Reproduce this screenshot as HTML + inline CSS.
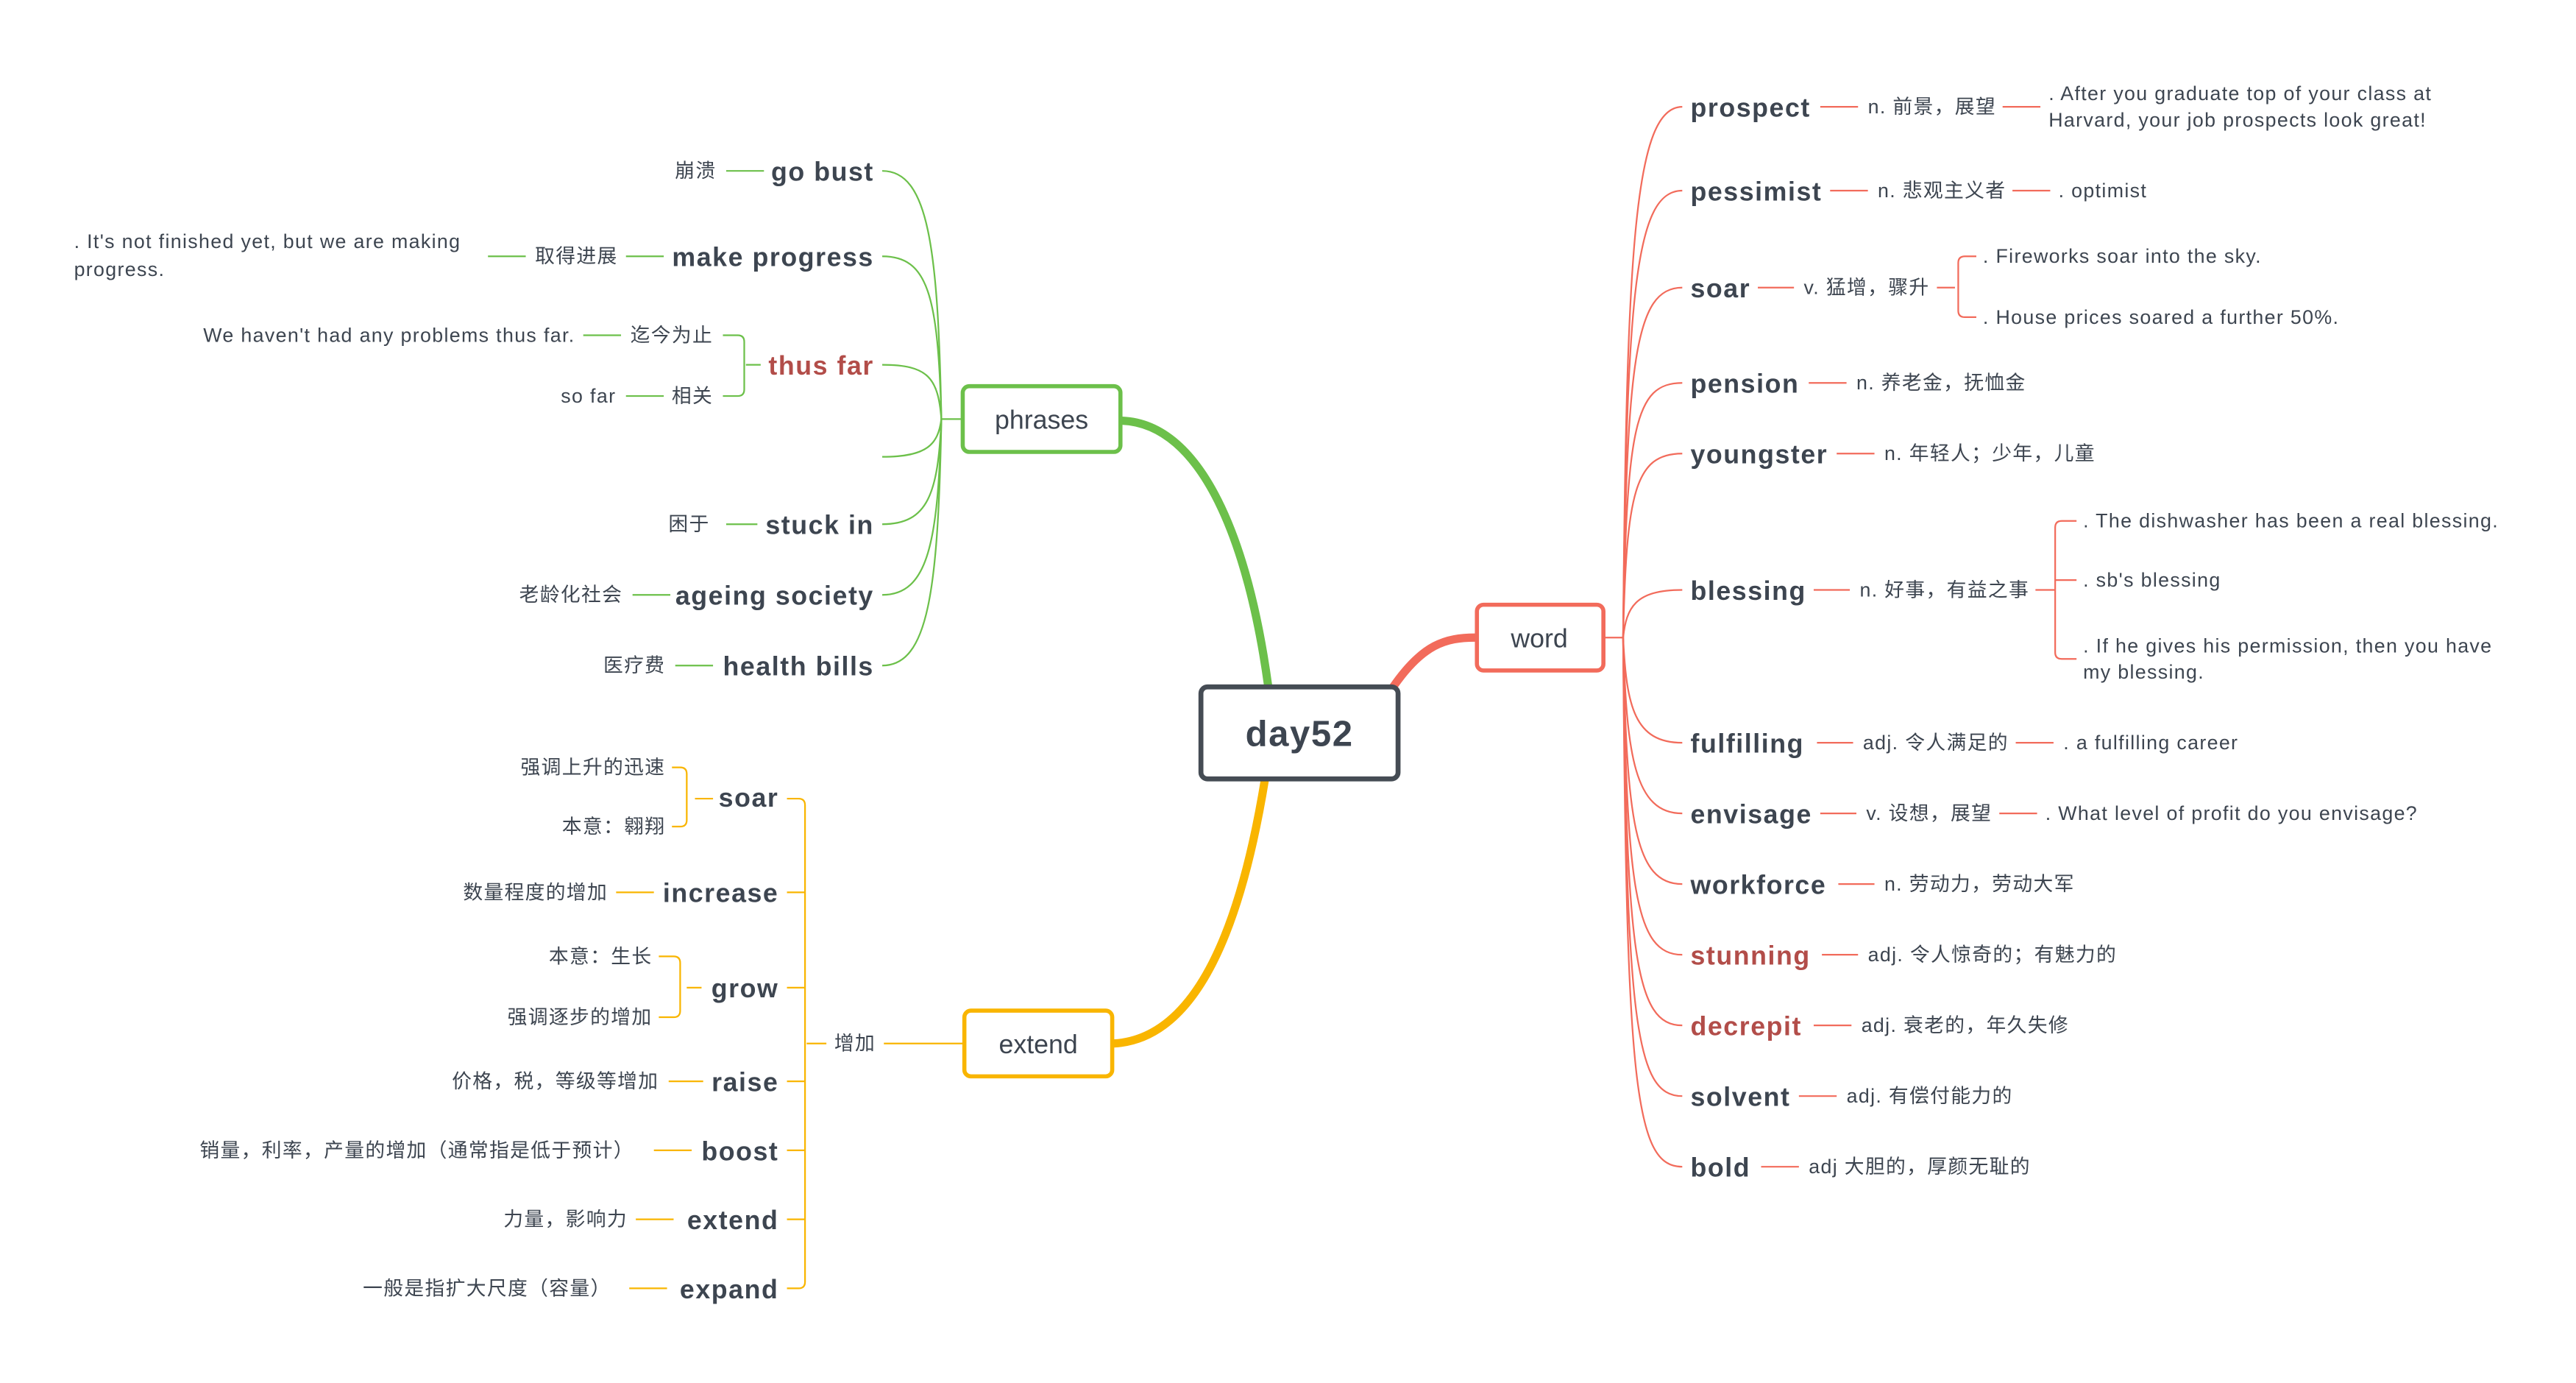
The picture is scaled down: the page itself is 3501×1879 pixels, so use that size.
<!DOCTYPE html>
<html><head><meta charset="utf-8">
<style>
html,body{margin:0;padding:0;background:#fff;width:3501px;height:1879px;overflow:hidden}
svg{display:block}
text{font-family:"Liberation Sans","Noto Sans CJK SC",sans-serif;fill:#3d4550}
.b{font-weight:bold;font-size:16px;letter-spacing:0.7px}
.s{font-size:12px;letter-spacing:0.6px}
.r{fill:#b24d49}
.rt{text-anchor:end}
</style></head><body>
<svg width="3501" height="1879" viewBox="0 0 1568 841.6" xmlns="http://www.w3.org/2000/svg">
<path d="M772 418 C760 330,732 258,683 256" fill="none" stroke="#6cc04a" stroke-width="5"/>
<path d="M848 418 C866 392,880 388,898 388" fill="none" stroke="#f26b5b" stroke-width="5"/>
<path d="M770 474 C756 560,730 632,678 635" fill="none" stroke="#f9b500" stroke-width="5"/>
<rect x="731" y="418" width="120" height="56" rx="4" fill="#fff" stroke="#454c54" stroke-width="3"/>
<text x="791" y="454" class="b" style="font-size:22px" text-anchor="middle">day52</text>
<rect x="899" y="368" width="77" height="40" rx="4" fill="#fff" stroke="#f26b5b" stroke-width="2.5"/>
<text x="937" y="394" style="font-size:16px" text-anchor="middle">word</text>
<rect x="586" y="235" width="96" height="40" rx="4" fill="#fff" stroke="#6cc04a" stroke-width="2.5"/>
<text x="634" y="261" style="font-size:16px" text-anchor="middle">phrases</text>
<rect x="587" y="615" width="90" height="40" rx="4" fill="#fff" stroke="#f9b500" stroke-width="2.5"/>
<text x="632" y="641" style="font-size:16px" text-anchor="middle">extend</text>

<g fill="none" stroke="#f26b5b" stroke-width="1">
<line x1="976" y1="388" x2="988" y2="388"/>
<path d="M988 388 C990 150,995 65,1024 65"/>
<path d="M988 388 C990 180,995 116,1024 116"/>
<path d="M988 388 C990 220,995 175,1024 175"/>
<path d="M988 388 C990 260,995 233,1024 233"/>
<path d="M988 388 C990 300,995 276,1024 276"/>
<path d="M988 388 C990 370,995 359,1024 359"/>
<path d="M988 388 C990 430,995 452,1024 452"/>
<path d="M988 388 C990 460,995 495,1024 495"/>
<path d="M988 388 C990 500,995 538,1024 538"/>
<path d="M988 388 C990 540,995 581,1024 581"/>
<path d="M988 388 C990 580,995 624,1024 624"/>
<path d="M988 388 C990 620,995 667,1024 667"/>
<path d="M988 388 C990 660,995 710,1024 710"/>
<line x1="1108" y1="65" x2="1131" y2="65"/><line x1="1219" y1="65" x2="1242" y2="65"/>
<line x1="1114" y1="116" x2="1137" y2="116"/><line x1="1225" y1="116" x2="1248" y2="116"/>
<line x1="1070" y1="175" x2="1092" y2="175"/><line x1="1179" y1="175" x2="1190" y2="175"/>
<path d="M1203 156 H1196 Q1192 156 1192 160 V189 Q1192 193 1196 193 H1203"/>
<line x1="1101" y1="233" x2="1124" y2="233"/>
<line x1="1118" y1="276" x2="1141" y2="276"/>
<line x1="1104" y1="359" x2="1126" y2="359"/><line x1="1239" y1="359" x2="1251" y2="359"/>
<path d="M1264 317 H1255 Q1251 317 1251 321 V397 Q1251 401 1255 401 H1264"/>
<line x1="1251" y1="353" x2="1264" y2="353"/>
<line x1="1106" y1="452" x2="1128" y2="452"/><line x1="1227" y1="452" x2="1250" y2="452"/>
<line x1="1108" y1="495" x2="1130" y2="495"/><line x1="1217" y1="495" x2="1240" y2="495"/>
<line x1="1119" y1="538" x2="1141" y2="538"/>
<line x1="1109" y1="581" x2="1131" y2="581"/>
<line x1="1104" y1="624" x2="1127" y2="624"/>
<line x1="1095" y1="667" x2="1118" y2="667"/>
<line x1="1072" y1="710" x2="1095" y2="710"/>
</g>
<text x="1029" y="71" class="b">prospect</text>
<text x="1137" y="69" class="s">n. 前景，展望</text>
<text x="1247" y="61" class="s">. After you graduate top of your class at</text>
<text x="1247" y="77" class="s">Harvard, your job prospects look great!</text>
<text x="1029" y="122" class="b">pessimist</text>
<text x="1143" y="120" class="s">n. 悲观主义者</text>
<text x="1253" y="120" class="s">. optimist</text>
<text x="1029" y="181" class="b">soar</text>
<text x="1098" y="179" class="s">v. 猛增，骤升</text>
<text x="1207" y="160" class="s">. Fireworks soar into the sky.</text>
<text x="1207" y="197" class="s">. House prices soared a further 50%.</text>
<text x="1029" y="239" class="b">pension</text>
<text x="1130" y="237" class="s">n. 养老金，抚恤金</text>
<text x="1029" y="282" class="b">youngster</text>
<text x="1147" y="280" class="s">n. 年轻人；少年，儿童</text>
<text x="1029" y="365" class="b">blessing</text>
<text x="1132" y="363" class="s">n. 好事，有益之事</text>
<text x="1268" y="321" class="s">. The dishwasher has been a real blessing.</text>
<text x="1268" y="357" class="s">. sb's blessing</text>
<text x="1268" y="397" class="s">. If he gives his permission, then you have</text>
<text x="1268" y="413" class="s">my blessing.</text>
<text x="1029" y="458" class="b">fulfilling</text>
<text x="1134" y="456" class="s">adj. 令人满足的</text>
<text x="1256" y="456" class="s">. a fulfilling career</text>
<text x="1029" y="501" class="b">envisage</text>
<text x="1136" y="499" class="s">v. 设想，展望</text>
<text x="1245" y="499" class="s">. What level of profit do you envisage?</text>
<text x="1029" y="544" class="b">workforce</text>
<text x="1147" y="542" class="s">n. 劳动力，劳动大军</text>
<text x="1029" y="587" class="b r">stunning</text>
<text x="1137" y="585" class="s">adj. 令人惊奇的；有魅力的</text>
<text x="1029" y="630" class="b r">decrepit</text>
<text x="1133" y="628" class="s">adj. 衰老的，年久失修</text>
<text x="1029" y="673" class="b">solvent</text>
<text x="1124" y="671" class="s">adj. 有偿付能力的</text>
<text x="1029" y="716" class="b">bold</text>
<text x="1101" y="714" class="s">adj 大胆的，厚颜无耻的</text>

<g fill="none" stroke="#6cc04a" stroke-width="1">
<line x1="586" y1="255" x2="573" y2="255"/>
<path d="M573 255 C571 150,565 104,537 104"/>
<path d="M573 255 C571 180,565 156,537 156"/>
<path d="M573 255 C571 230,565 222,537 222"/>
<path d="M573 255 C571 270,565 278,537 278"/>
<path d="M573 255 C571 300,565 319,537 319"/>
<path d="M573 255 C571 330,565 362,537 362"/>
<path d="M573 255 C571 360,565 405,537 405"/>
<line x1="442" y1="104" x2="465" y2="104"/>
<line x1="381" y1="156" x2="404" y2="156"/><line x1="297" y1="156" x2="320" y2="156"/>
<line x1="454" y1="222" x2="463" y2="222"/>
<path d="M440 204 H449 Q453 204 453 208 V237 Q453 241 449 241 H440"/>
<line x1="355" y1="204" x2="378" y2="204"/>
<line x1="381" y1="241" x2="404" y2="241"/>
<line x1="442" y1="319" x2="461" y2="319"/>
<line x1="385" y1="362" x2="408" y2="362"/>
<line x1="411" y1="405" x2="434" y2="405"/>
</g>
<text x="532" y="110" class="b rt">go bust</text>
<text x="436" y="108" class="s rt">崩溃</text>
<text x="532" y="162" class="b rt">make progress</text>
<text x="376" y="160" class="s rt">取得进展</text>
<text x="45" y="151" class="s">. It's not finished yet, but we are making</text>
<text x="45" y="168" class="s">progress.</text>
<text x="532" y="228" class="b rt r">thus far</text>
<text x="434" y="208" class="s rt">迄今为止</text>
<text x="350" y="208" class="s rt">We haven't had any problems thus far.</text>
<text x="434" y="245" class="s rt">相关</text>
<text x="375" y="245" class="s rt">so far</text>
<text x="532" y="325" class="b rt">stuck in</text>
<text x="432" y="323" class="s rt">困于</text>
<text x="532" y="368" class="b rt">ageing society</text>
<text x="379" y="366" class="s rt">老龄化社会</text>
<text x="532" y="411" class="b rt">health bills</text>
<text x="405" y="409" class="s rt">医疗费</text>

<g fill="none" stroke="#f9b500" stroke-width="1">
<line x1="587" y1="635" x2="538" y2="635"/>
<line x1="503" y1="635" x2="491" y2="635"/>
<path d="M479 486 H486 Q490 486 490 490 V780 Q490 784 486 784 H479"/>
<line x1="479" y1="543" x2="490" y2="543"/>
<line x1="479" y1="601" x2="490" y2="601"/>
<line x1="479" y1="658" x2="490" y2="658"/>
<line x1="479" y1="700" x2="490" y2="700"/>
<line x1="479" y1="742" x2="490" y2="742"/>
<line x1="423" y1="486" x2="434" y2="486"/>
<path d="M409 467 H414 Q418 467 418 471 V499 Q418 503 414 503 H409"/>
<line x1="375" y1="543" x2="398" y2="543"/>
<line x1="418" y1="601" x2="427" y2="601"/>
<path d="M401 582 H410 Q414 582 414 586 V615 Q414 619 410 619 H401"/>
<line x1="407" y1="658" x2="428" y2="658"/>
<line x1="398" y1="700" x2="421" y2="700"/>
<line x1="387" y1="742" x2="410" y2="742"/>
<line x1="383" y1="784" x2="406" y2="784"/>
</g>
<text x="533" y="639" class="s rt">增加</text>
<text x="474" y="491" class="b rt">soar</text>
<text x="405" y="471" class="s rt">强调上升的迅速</text>
<text x="405" y="507" class="s rt">本意：翱翔</text>
<text x="474" y="549" class="b rt">increase</text>
<text x="370" y="547" class="s rt">数量程度的增加</text>
<text x="474" y="607" class="b rt">grow</text>
<text x="397" y="586" class="s rt">本意：生长</text>
<text x="397" y="623" class="s rt">强调逐步的增加</text>
<text x="474" y="664" class="b rt">raise</text>
<text x="401" y="662" class="s rt">价格，税，等级等增加</text>
<text x="474" y="706" class="b rt">boost</text>
<text x="386" y="704" class="s rt">销量，利率，产量的增加（通常指是低于预计）</text>
<text x="474" y="748" class="b rt">extend</text>
<text x="382" y="746" class="s rt">力量，影响力</text>
<text x="474" y="790" class="b rt">expand</text>
<text x="372" y="788" class="s rt">一般是指扩大尺度（容量）</text>
</svg>
</body></html>
